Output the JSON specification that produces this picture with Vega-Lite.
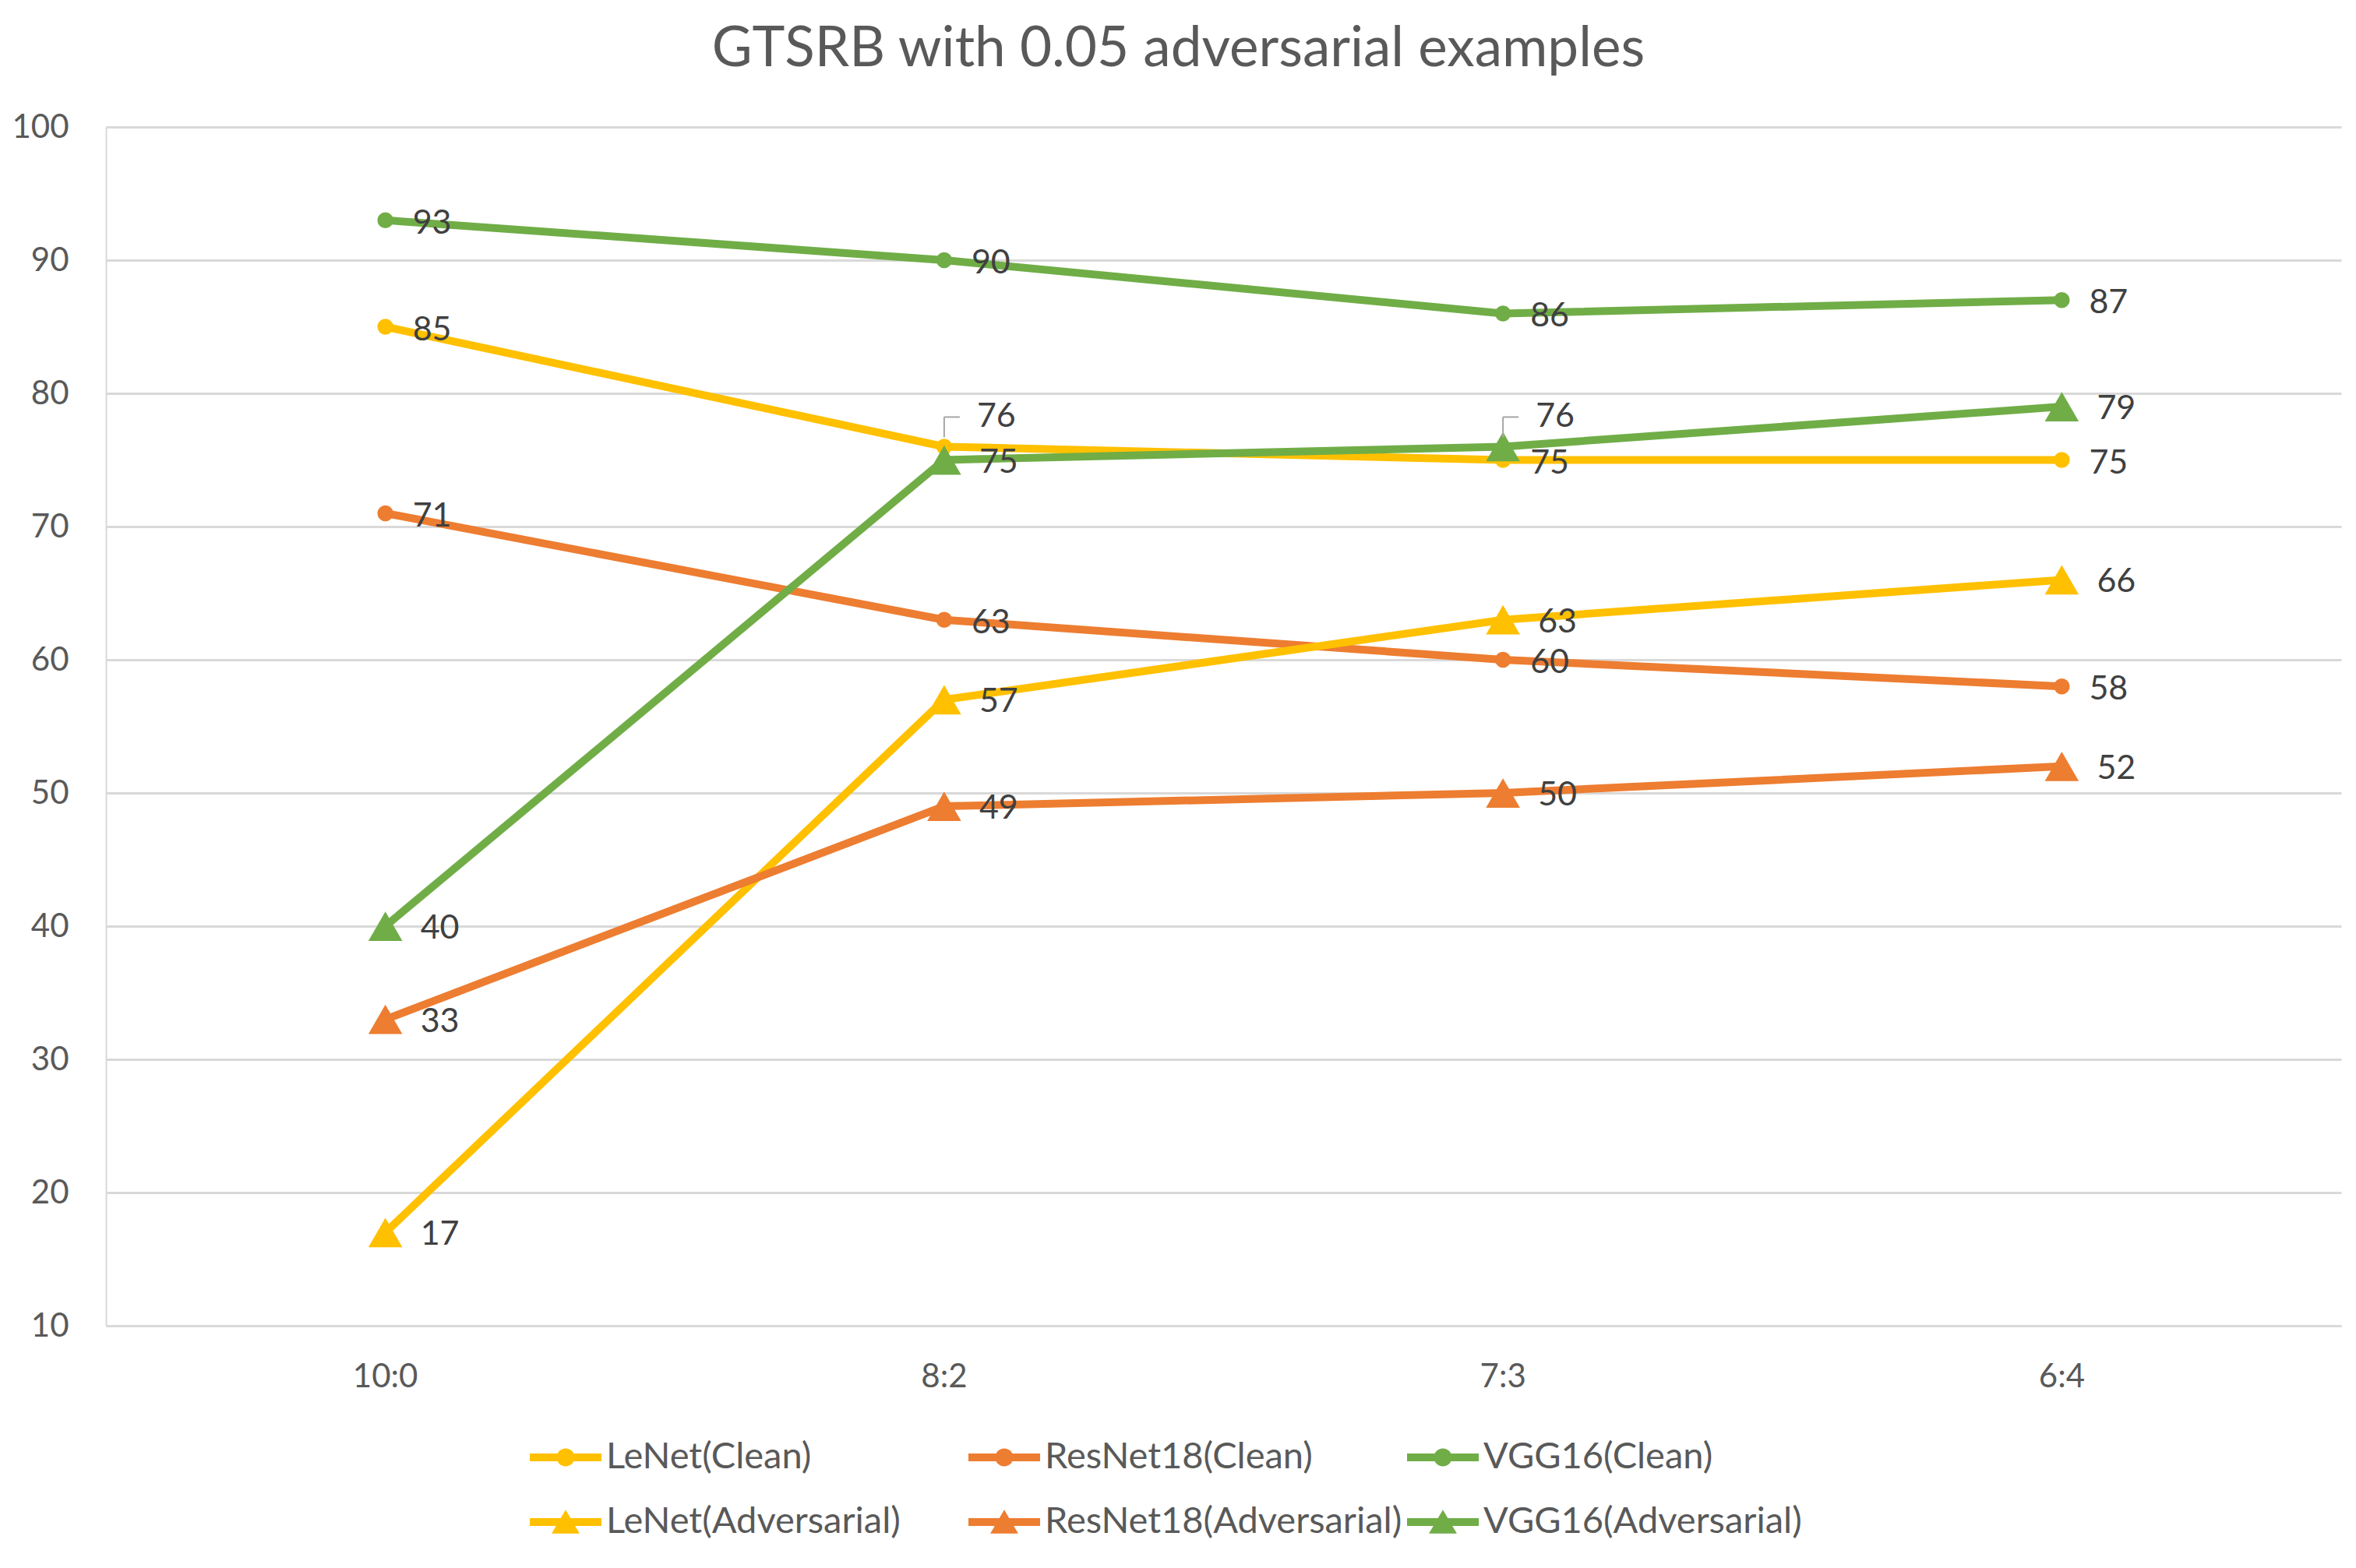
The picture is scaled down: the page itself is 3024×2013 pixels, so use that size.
{
  "$schema": "https://vega.github.io/schema/vega-lite/v6.json",
  "width": 2869,
  "height": 1539,
  "autosize": {"type": "none"},
  "padding": {"left": 136, "top": 163, "right": 19, "bottom": 311},
  "background": "white",
  "title": {
    "text": "GTSRB with 0.05 adversarial examples",
    "font": "Lato",
    "fontSize": 71,
    "fontWeight": "normal",
    "color": "#595959",
    "anchor": "middle",
    "dx": -58,
    "offset": 42
  },
  "config": {"view": {"stroke": null}, "font": "Lato"},
  "data": {
    "values": [
      {"series": "LeNet(Clean)", "ratio": "10:0", "accuracy": 85},
      {"series": "LeNet(Clean)", "ratio": "8:2", "accuracy": 76},
      {"series": "LeNet(Clean)", "ratio": "7:3", "accuracy": 75},
      {"series": "LeNet(Clean)", "ratio": "6:4", "accuracy": 75},
      {"series": "ResNet18(Clean)", "ratio": "10:0", "accuracy": 71},
      {"series": "ResNet18(Clean)", "ratio": "8:2", "accuracy": 63},
      {"series": "ResNet18(Clean)", "ratio": "7:3", "accuracy": 60},
      {"series": "ResNet18(Clean)", "ratio": "6:4", "accuracy": 58},
      {"series": "VGG16(Clean)", "ratio": "10:0", "accuracy": 93},
      {"series": "VGG16(Clean)", "ratio": "8:2", "accuracy": 90},
      {"series": "VGG16(Clean)", "ratio": "7:3", "accuracy": 86},
      {"series": "VGG16(Clean)", "ratio": "6:4", "accuracy": 87},
      {"series": "LeNet(Adversarial)", "ratio": "10:0", "accuracy": 17},
      {"series": "LeNet(Adversarial)", "ratio": "8:2", "accuracy": 57},
      {"series": "LeNet(Adversarial)", "ratio": "7:3", "accuracy": 63},
      {"series": "LeNet(Adversarial)", "ratio": "6:4", "accuracy": 66},
      {"series": "ResNet18(Adversarial)", "ratio": "10:0", "accuracy": 33},
      {"series": "ResNet18(Adversarial)", "ratio": "8:2", "accuracy": 49},
      {"series": "ResNet18(Adversarial)", "ratio": "7:3", "accuracy": 50},
      {"series": "ResNet18(Adversarial)", "ratio": "6:4", "accuracy": 52},
      {"series": "VGG16(Adversarial)", "ratio": "10:0", "accuracy": 40},
      {"series": "VGG16(Adversarial)", "ratio": "8:2", "accuracy": 75},
      {"series": "VGG16(Adversarial)", "ratio": "7:3", "accuracy": 76},
      {"series": "VGG16(Adversarial)", "ratio": "6:4", "accuracy": 79}
    ]
  },
  "encoding": {
    "x": {
      "field": "ratio",
      "type": "ordinal",
      "sort": ["10:0", "8:2", "7:3", "6:4"],
      "scale": {"paddingInner": 0, "paddingOuter": 0},
      "axis": {
        "title": null,
        "labelAngle": 0,
        "labelFont": "Lato",
        "labelFontSize": 42,
        "labelColor": "#595959",
        "labelPadding": 45,
        "ticks": false,
        "grid": false,
        "domain": true,
        "domainColor": "#d9d9d9",
        "domainWidth": 3
      }
    },
    "y": {
      "field": "accuracy",
      "type": "quantitative",
      "scale": {"domain": [10, 100], "nice": false, "zero": false},
      "axis": {
        "title": null,
        "values": [10, 20, 30, 40, 50, 60, 70, 80, 90, 100],
        "labelFont": "Lato",
        "labelFontSize": 42,
        "labelColor": "#595959",
        "labelPadding": 48,
        "ticks": false,
        "grid": true,
        "gridColor": "#d9d9d9",
        "gridWidth": 3,
        "domain": true,
        "domainColor": "#d9d9d9",
        "domainWidth": 2
      }
    },
    "color": {
      "field": "series",
      "type": "nominal",
      "scale": {
        "domain": ["LeNet(Clean)", "ResNet18(Clean)", "VGG16(Clean)", "LeNet(Adversarial)", "ResNet18(Adversarial)", "VGG16(Adversarial)"],
        "range": ["#FFC000", "#ED7D31", "#70AD47", "#FFC000", "#ED7D31", "#70AD47"]
      },
      "legend": {
        "title": null,
        "orient": "none",
        "legendX": 544,
        "legendY": 1662,
        "direction": "horizontal",
        "columns": 3,
        "gridAlign": "all",
        "labelFont": "Lato",
        "labelFontSize": 47,
        "labelColor": "#595959",
        "labelOffset": 6,
        "labelLimit": 0,
        "symbolSize": 8464,
        "columnPadding": 6,
        "rowPadding": 14,
        "symbolStrokeWidth": 0,
        "encode": {
          "symbols": {
            "update": {
              "shape": {"signal": "indexof(datum.value, 'Adversarial') >= 0 ? 'M-1,-0.11 L1,-0.11 L1,0.11 L-1,0.11 Z M0,-0.34 L0.39,0.32 L-0.39,0.32 Z' : 'M-1,-0.11 L1,-0.11 L1,0.11 L-1,0.11 Z M-0.25,0 A0.25,0.25 0 1,1 0.25,0 A0.25,0.25 0 1,1 -0.25,0 Z'"},
              "fill": {"scale": "color", "field": "value"},
              "fillOpacity": {"value": 1},
              "strokeWidth": {"value": 0}
            }
          }
        }
      }
    }
  },
  "layer": [
    {"mark": {"type": "line", "strokeWidth": 10}},
    {
      "transform": [{"filter": "indexof(datum.series, 'Clean') >= 0"}],
      "mark": {"type": "point", "shape": "circle", "filled": true, "size": 420, "opacity": 1}
    },
    {
      "transform": [{"filter": "indexof(datum.series, 'Adversarial') >= 0"}],
      "mark": {"type": "point", "shape": "triangle-up", "filled": true, "size": 1900, "opacity": 1}
    },
    {
      "transform": [{"filter": "indexof(datum.series, 'Clean') >= 0 && !(datum.series == 'LeNet(Clean)' && datum.ratio == '8:2')"}],
      "mark": {"type": "text", "align": "left", "baseline": "middle", "dx": 35, "dy": 4, "font": "Lato", "fontSize": 43, "color": "#404040"},
      "encoding": {"text": {"field": "accuracy"}, "color": {"value": "#404040"}}
    },
    {
      "transform": [{"filter": "indexof(datum.series, 'Adversarial') >= 0 && !(datum.series == 'VGG16(Adversarial)' && datum.ratio == '7:3')"}],
      "mark": {"type": "text", "align": "left", "baseline": "middle", "dx": 45, "dy": 3, "font": "Lato", "fontSize": 43, "color": "#404040"},
      "encoding": {"text": {"field": "accuracy"}, "color": {"value": "#404040"}}
    },
    {
      "transform": [{"filter": "(datum.series == 'LeNet(Clean)' && datum.ratio == '8:2') || (datum.series == 'VGG16(Adversarial)' && datum.ratio == '7:3')"}],
      "mark": {"type": "text", "align": "left", "baseline": "middle", "dx": 42, "dy": -38, "font": "Lato", "fontSize": 43, "color": "#404040"},
      "encoding": {"text": {"field": "accuracy"}, "color": {"value": "#404040"}}
    },
    {
      "transform": [{"filter": "(datum.series == 'LeNet(Clean)' && datum.ratio == '8:2') || (datum.series == 'VGG16(Adversarial)' && datum.ratio == '7:3')"}],
      "mark": {"type": "rule", "color": "#a6a6a6", "strokeWidth": 2, "yOffset": -12, "y2Offset": -38},
      "encoding": {"y2": {"field": "accuracy"}, "color": {"value": "#a6a6a6"}}
    },
    {
      "transform": [{"filter": "(datum.series == 'LeNet(Clean)' && datum.ratio == '8:2') || (datum.series == 'VGG16(Adversarial)' && datum.ratio == '7:3')"}],
      "mark": {"type": "rule", "color": "#a6a6a6", "strokeWidth": 2, "yOffset": -38, "x2Offset": 20},
      "encoding": {"x2": {"field": "ratio"}, "color": {"value": "#a6a6a6"}}
    }
  ]
}
